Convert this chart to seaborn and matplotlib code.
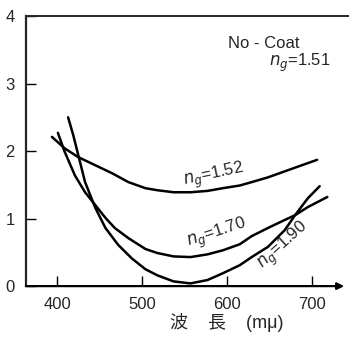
"""
Reflectance vs wavelength for uncoated glass of several indices.
"""

import matplotlib
matplotlib.use("Agg")
import matplotlib.pyplot as plt
import numpy as np
import pandas as pd
import seaborn as sns

# values
wl_152 = [394, 409, 425, 445, 465, 484, 504, 518, 537, 557, 577, 595, 615, 629, 648, 668, 688, 706]
r_152 = [2.21, 2.04, 1.91, 1.79, 1.67, 1.54, 1.45, 1.42, 1.39, 1.39, 1.41, 1.45, 1.49, 1.54, 1.61, 1.70, 1.79, 1.87]

wl_170 = [401, 409, 421, 433, 445, 457, 468, 484, 504, 518, 537, 557, 577, 595, 615, 629, 648, 668, 680, 695, 718]
r_170 = [2.27, 1.99, 1.64, 1.39, 1.20, 1.01, 0.86, 0.71, 0.55, 0.49, 0.44, 0.43, 0.47, 0.53, 0.62, 0.74, 0.86, 0.98, 1.05, 1.17, 1.32]

wl_190 = [413, 419, 425, 433, 445, 457, 472, 488, 504, 518, 537, 557, 577, 595, 615, 629, 648, 668, 680, 695, 709]
r_190 = [2.50, 2.24, 1.94, 1.54, 1.16, 0.86, 0.61, 0.41, 0.25, 0.16, 0.07, 0.04, 0.09, 0.19, 0.31, 0.43, 0.58, 0.83, 1.05, 1.30, 1.48]

series_names = ["1.52", "1.70", "1.90"]

x_ticks = [400, 500, 600, 700]
y_ticks = [0, 1, 2, 3, 4]

frames = []
for name, wl, r in zip(series_names, [wl_152, wl_170, wl_190], [r_152, r_170, r_190]):
    frames.append(pd.DataFrame({"wavelength": wl, "reflect": r, "ng": name}))
df = pd.concat(frames, ignore_index=True)

sns.set_style("ticks")
plt.rcParams["font.family"] = ["Liberation Sans", "Noto Sans CJK JP", "DejaVu Sans"]
plt.rcParams["mathtext.fontset"] = "dejavusans"

fig = plt.figure(figsize=(3.49, 3.37), dpi=100)
ax = fig.add_axes([0.0745, 0.151, 0.9255, 0.8015])

sns.lineplot(
    data=df,
    x="wavelength",
    y="reflect",
    units="ng",
    estimator=None,
    sort=False,
    color="black",
    linewidth=1.8,
    ax=ax,
    legend=False,
)

ax.set_xlim(363.5, 743.5)
ax.set_ylim(0, 4)
ax.set_xticks(x_ticks)
ax.set_yticks(y_ticks)
ax.tick_params(direction="in", length=7, width=1.0, labelsize=12, color="black")
ax.tick_params(axis="y", pad=8)
ax.tick_params(axis="x", pad=8)

ax.spines["right"].set_visible(False)
ax.spines["bottom"].set_visible(False)
ax.spines["left"].set_linewidth(1.6)
ax.spines["top"].set_linewidth(1.4)
ax.annotate(
    "",
    xy=(0.985, 0),
    xytext=(0, 0),
    xycoords="axes fraction",
    arrowprops=dict(arrowstyle="-|>", lw=1.6, color="black", mutation_scale=10, shrinkA=0, shrinkB=0),
)

# label sits right of centre in the original
ax.set_xlabel("波    長    (mμ)", fontsize=13)
ax.xaxis.set_label_coords(0.62, -0.10)
ax.set_ylabel("")

ax.text(643, 3.6, "No - Coat", fontsize=12, ha="center", va="center")
ax.text(686, 3.31, "$n_g$=1.51", fontsize=12, ha="center", va="center")
ax.text(584, 1.63, "$n_g$=1.52", fontsize=12, ha="center", va="center", rotation=12)
ax.text(588, 0.78, "$n_g$=1.70", fontsize=12, ha="center", va="center", rotation=18)
ax.text(667, 0.60, "$n_g$=1.90", fontsize=12, ha="center", va="center", rotation=42)

fig.savefig("out.png", dpi=100, facecolor="white")
